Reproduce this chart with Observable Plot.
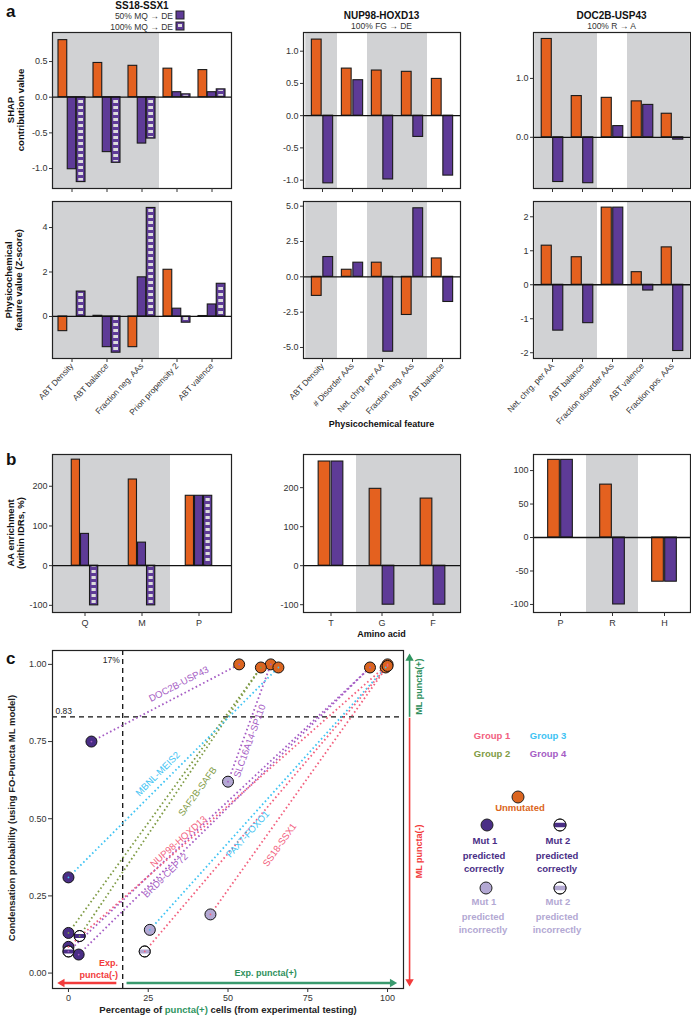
<!DOCTYPE html>
<html><head><meta charset="utf-8">
<script src="https://cdn.jsdelivr.net/npm/d3@7"></script>
<script src="https://cdn.jsdelivr.net/npm/@observablehq/plot@0.6"></script>
<style>
body{margin:0;background:#fff;}
#root{position:relative;width:691px;height:1019px;overflow:hidden;background:#fff;}
</style></head><body><div id="root"></div>
<script>
// ---------------- DATA ----------------
// Panel a, column 1: SS18-SSX1
const aFeat1 = ["ABT Density","ABT balance","Fraction neg. AAs","Prion propensity 2","ABT valence"];
const aShade1 = ["ABT Density","ABT balance","Fraction neg. AAs"];
const aShap1Unmut = [0.80,0.48,0.44,0.40,0.38];
const aShap1Mut50 = [-1.01,-0.77,-0.65,0.07,0.07];
const aShap1Mut100 = [-1.19,-0.92,-0.58,0.04,0.11];
const aZ1Unmut = [-0.66,0.03,-1.38,2.10,0.02];
const aZ1Mut50 = [0.0,-1.38,1.76,0.35,0.54];
const aZ1Mut100 = [1.12,-1.63,4.88,-0.28,1.47];
// Panel a, column 2: NUP98-HOXD13
const aFeat2 = ["ABT Density","# Disorder AAs","Net. chrg. per AA","Fraction neg. AAs","ABT balance"];
const aShade2 = ["ABT Density","Net. chrg. per AA","Fraction neg. AAs"];
const aShap2Unmut = [1.18,0.73,0.70,0.68,0.57];
const aShap2Mut = [-1.05,0.55,-0.99,-0.33,-0.93];
const aZ2Unmut = [-1.35,0.50,1.00,-2.70,1.30];
const aZ2Mut = [1.40,1.00,-5.30,4.85,-1.78];
// Panel a, column 3: DOC2B-USP43
const aFeat3 = ["Net. chrg. per AA","ABT balance","Fraction disorder AAs","ABT valence","Fraction pos. AAs"];
const aShade3 = ["Net. chrg. per AA","ABT balance","ABT valence","Fraction pos. AAs"];
const aShap3Unmut = [1.67,0.70,0.67,0.61,0.40];
const aShap3Mut = [-0.76,-0.78,0.19,0.55,-0.04];
const aZ3Unmut = [1.15,0.81,2.27,0.37,1.10];
const aZ3Mut = [-1.35,-1.13,2.27,-0.17,-1.95];
// Panel b
const bAA1 = ["Q","M","P"], bShade1 = ["Q","M"];
const bUnmut1 = [267,217,176], bMut50_1 = [80,58,176], bMut100_1 = [-100,-100,176];
const bAA2 = ["T","G","F"], bShade2 = ["G","F"];
const bUnmut2 = [267,197,172], bMut2 = [267,-100,-100];
const bAA3 = ["P","R","H"], bShade3 = ["R"];
const bUnmut3 = [116,79,-66], bMut3 = [116,-100,-66];
// Panel c
const fusions = ["DOC2B-USP43","SLC16A14-SP110","SAF2B-SAFB","MBNL-MEIS2","BRD9-CEP72","NUP98-HOXD13","PAX7-FOXO1","SS18-SSX1"];
const fusionGroup = [4,4,2,3,4,1,3,1];
const unmutX = [53.5,63.4,60.3,65.8,94.5,100,99.4,100];
const unmutY = [1.00,1.00,0.99,0.99,0.99,1.00,0.99,0.995];
const mutFusion = ["DOC2B-USP43","SLC16A14-SP110","SAF2B-SAFB","SAF2B-SAFB","MBNL-MEIS2","BRD9-CEP72","BRD9-CEP72","NUP98-HOXD13","PAX7-FOXO1","SS18-SSX1","SS18-SSX1"];
const mutX = [7.2,50,0,3.5,0,3.2,0,0,25.5,44.5,23.9];
const mutY = [0.75,0.62,0.13,0.12,0.31,0.06,0.07,0.085,0.14,0.19,0.07];
const mutKind = [1,1,1,2,1,1,2,1,1,1,2];
const mutCorrect = [true,false,true,true,true,true,true,true,false,false,false];
// annotation: label anchor points (data units) and the mutant line each label follows
const labelX = [34.6,56.8,40.5,28.0,30.4,34.5,56.2,66.2];
const labelY = [0.936,0.752,0.588,0.645,0.316,0.426,0.450,0.415];
const labelLine = [0,1,2,4,5,7,8,9];
const expThreshold = 17, mlThreshold = 0.83;

// ---------------- STYLE ----------------
const FONT = '"Liberation Sans", Arial, Helvetica, sans-serif';
const ORANGE = "#e4611f", PURPLE = "#5e3b97", SHADE = "#d1d2d4";
const C_ORANGE = "#db6520", MUT_OK = "#4a2e86", MUT_BAD = "#b3a8d3";
const GROUPC = {1:"#f2607e",2:"#7f9b45",3:"#3ec3f3",4:"#a55cc4"};
const STYLE = {fontFamily: FONT, fontSize: "9px", color: "#333", background: "transparent", overflow: "visible"};
const root = document.getElementById("root");
function place(node, left, top) {
  node.style.position = "absolute"; node.style.left = left + "px"; node.style.top = top + "px";
  root.appendChild(node);
}
const f1 = d => d.toFixed(1), f0 = d => String(d);

// defs (pattern for striped bars)
const defs = d3.create("svg").attr("width",0).attr("height",0).style("position","absolute");
const pat = defs.append("defs").append("pattern").attr("id","stripes")
  .attr("patternUnits","userSpaceOnUse").attr("width",6).attr("height",6);
pat.append("rect").attr("width",6).attr("height",3).attr("fill","#dcdcdc");
root.appendChild(defs.node());

function barPanel(o) {
  const ml = 40, mr = 4, mt = 4, mb = o.xlabels === "rot" ? 80 : (o.xlabels === "plain" ? 22 : 10);
  const n = o.domain.length;
  const step = o.fw / (n + 2 * o.pad);
  const outer = step * o.pad;
  const marks = [];
  o.shade.forEach(c => {
    const i = o.domain.indexOf(c);
    marks.push(Plot.cell([c], {x: d => d, fill: SHADE, insetTop: 0, insetBottom: 0,
      insetLeft: i === 0 ? -outer : 0, insetRight: i === n - 1 ? -outer : 0}));
  });
  o.series.forEach(s => {
    const data = o.domain.map((f, i) => ({f, v: s.values[i]}));
    marks.push(Plot.barY(data, {x: "f", y: "v", fill: s.fill, stroke: "#1a1a1a", strokeWidth: 1.1,
      insetLeft: step / 2 + s.o1, insetRight: step / 2 - s.o2}));
    if (s.striped) marks.push(Plot.barY(data, {x: "f", y: "v", fill: "url(#stripes)",
      insetLeft: step / 2 + s.o1 + 2, insetRight: step / 2 - s.o2 + 2, insetTop: 1, insetBottom: 1}));
  });
  marks.push(Plot.ruleY([0], {stroke: "#111", strokeWidth: 1.3}));
  marks.push(Plot.frame({stroke: "#222", strokeWidth: 1.2}));
  marks.push(Plot.axisY({ticks: o.ticks, tickFormat: o.fmt, tickSize: 3, tickPadding: 2, label: null, fontSize: 9}));
  marks.push(o.xlabels === "rot"
    ? Plot.axisX({tickSize: 4, tickRotate: -47, label: null, fontSize: 8.4, tickPadding: 2})
    : o.xlabels === "plain"
      ? Plot.axisX({tickSize: 4, label: null, fontSize: 9, tickPadding: 3})
      : Plot.axisX({tickSize: 4, tickFormat: () => "", label: null}));
  const p = Plot.plot({
    width: ml + o.fw + mr, height: mt + o.fh + mb,
    marginLeft: ml, marginRight: mr, marginTop: mt, marginBottom: mb,
    style: STYLE,
    x: {type: "band", domain: o.domain, paddingInner: 0, paddingOuter: o.pad, axis: null},
    y: {domain: o.yDomain, axis: null},
    marks
  });
  place(p, o.fl - ml, o.ft - mt);
}

const S3 = (u, m1, m2) => [
  {values: u, fill: ORANGE, o1: -13.5, o2: -4.75},
  {values: m1, fill: PURPLE, o1: -4.25, o2: 4.25},
  {values: m2, fill: PURPLE, o1: 4.75, o2: 13.5, striped: true}];
const S2 = (u, m, w) => [
  {values: u, fill: ORANGE, o1: -w, o2: -0.5},
  {values: m, fill: PURPLE, o1: 0.5, o2: w}];

// Panel a
barPanel({fl:52, ft:32, fw:179, fh:156, domain:aFeat1, pad:0.057, shade:aShade1, yDomain:[-1.28,0.907], ticks:[-1,-0.5,0,0.5], fmt:f1, series:S3(aShap1Unmut,aShap1Mut50,aShap1Mut100)});
barPanel({fl:52, ft:201, fw:179, fh:157, domain:aFeat1, pad:0.057, shade:aShade1, yDomain:[-1.89,5.17], ticks:[0,2,4], fmt:f0, xlabels:"rot", series:S3(aZ1Unmut,aZ1Mut50,aZ1Mut100)});
barPanel({fl:303, ft:32, fw:157, fh:156, domain:aFeat2, pad:0.056, shade:aShade2, yDomain:[-1.13,1.29], ticks:[-1,-0.5,0,0.5,1], fmt:f1, series:S2(aShap2Unmut,aShap2Mut,11)});
barPanel({fl:303, ft:201, fw:157, fh:157, domain:aFeat2, pad:0.056, shade:aShade2, yDomain:[-5.78,5.33], ticks:[-5,-2.5,0,2.5,5], fmt:f1, xlabels:"rot", series:S2(aZ2Unmut,aZ2Mut,11)});
barPanel({fl:533, ft:32, fw:157, fh:156, domain:aFeat3, pad:0.08, shade:aShade3, yDomain:[-0.87,1.78], ticks:[0,1], fmt:f1, series:S2(aShap3Unmut,aShap3Mut,11)});
barPanel({fl:533, ft:201, fw:157, fh:157, domain:aFeat3, pad:0.08, shade:aShade3, yDomain:[-2.17,2.45], ticks:[-2,-1,0,1,2], fmt:f0, xlabels:"rot", series:S2(aZ3Unmut,aZ3Mut,11)});
// Panel b
barPanel({fl:52, ft:454, fw:179, fh:158, domain:bAA1, pad:0.056, shade:bShade1, yDomain:[-118,280], ticks:[-100,0,100,200], fmt:f0, xlabels:"plain", series:S3(bUnmut1,bMut50_1,bMut100_1)});
barPanel({fl:303, ft:454, fw:157, fh:158, domain:bAA2, pad:0.03, shade:bShade2, yDomain:[-120,285], ticks:[-100,0,100,200], fmt:f0, xlabels:"plain", series:S2(bUnmut2,bMut2,12.5)});
barPanel({fl:533, ft:454, fw:157, fh:158, domain:bAA3, pad:0.0, shade:bShade3, yDomain:[-112,124], ticks:[-100,-50,0,50,100], fmt:f0, xlabels:"plain", series:S2(bUnmut3,bMut3,12.5)});

// ---------------- Panel c ----------------
const cFL = 52, cFT = 650, cFW = 351, cFH = 338, XD = [-5,105], YD = [-0.05,1.045];
const kx = cFW / (XD[1]-XD[0]), ky = cFH / (YD[1]-YD[0]);
const unm = fusions.map((f,i) => ({f, x: unmutX[i], y: unmutY[i], g: fusionGroup[i]}));
const mut = mutFusion.map((f,i) => {
  const j = fusions.indexOf(f);
  return {f, x: mutX[i], y: mutY[i], kind: mutKind[i], ok: mutCorrect[i], g: fusionGroup[j], ux: unmutX[j], uy: unmutY[j]};
});
const labels = fusions.map((f,i) => {
  const m = mut[labelLine[i]];
  const ang = -Math.atan2((m.uy - m.y) * ky, (m.ux - m.x) * kx) * 180 / Math.PI;
  return {t: f, x: labelX[i], y: labelY[i], g: fusionGroup[i], ang};
});
const bandSymbol = {draw(ctx, size) {
  const r = Math.sqrt(size / Math.PI), h = 0.36 * r, x0 = Math.sqrt(r*r - h*h), th = Math.asin(h / r);
  ctx.moveTo(-x0, -h); ctx.lineTo(x0, -h); ctx.arc(0, 0, r, -th, th);
  ctx.lineTo(-x0, h); ctx.arc(0, 0, r, Math.PI - th, Math.PI + th); ctx.closePath();
}};
const R = 5.5;
const mut1 = mut.filter(d => d.kind === 1), mut2 = mut.filter(d => d.kind === 2);
const arrowsH = [{x1: expThreshold - 2, x2: XD[0] + 3, y: -0.032, c: "#f23b3b"}, {x1: expThreshold + 1.2, x2: 101.5, y: -0.032, c: "#3a9a6e"}];
const arrowsV = [{y1: mlThreshold, y2: YD[1] - 0.025, c: "#2e9460", x: 106.9}, {y1: mlThreshold - 0.003, y2: YD[0] + 0.022, c: "#f23b3b", x: 106.9}];
const cPlot = Plot.plot({
  width: cFL + cFW + 28, height: 10 + cFH + 22,
  marginLeft: cFL, marginTop: 10, marginRight: 28, marginBottom: 22,
  style: STYLE,
  x: {domain: XD, axis: null},
  y: {domain: YD, axis: null},
  color: {type: "identity"},
  marks: [
    Plot.ruleX([expThreshold], {stroke: "#111", strokeWidth: 1.3, strokeDasharray: "5,4"}),
    Plot.ruleY([mlThreshold], {stroke: "#111", strokeWidth: 1.3, strokeDasharray: "5,4"}),
    Plot.text([expThreshold], {x: d => d, text: d => d + "%", frameAnchor: "top", dy: 6, dx: -3, textAnchor: "end", fontSize: 8.5, fill: "#222"}),
    Plot.text([mlThreshold], {y: d => d, text: d => d.toFixed(2), frameAnchor: "left", dx: 3, dy: -6, textAnchor: "start", fontSize: 8.5, fill: "#222"}),
    Plot.link(mut, {x1: "x", y1: "y", x2: "ux", y2: "uy", stroke: d => GROUPC[d.g], strokeWidth: 1.8, strokeDasharray: "1.6,2.6"}),
    Plot.text(labels, {x: "x", y: "y", text: "t", rotate: "ang", fill: d => GROUPC[d.g], fontSize: 9.5}),
    Plot.dot(unm, {x: "x", y: "y", r: R, fill: C_ORANGE, stroke: "#111", strokeWidth: 1}),
    Plot.dot(mut1, {x: "x", y: "y", r: R, fill: d => d.ok ? MUT_OK : MUT_BAD, stroke: "#111", strokeWidth: 1}),
    Plot.dot(mut2, {x: "x", y: "y", r: R, fill: "white", stroke: "#111", strokeWidth: 1}),
    Plot.dot(mut2, {x: "x", y: "y", r: R, symbol: bandSymbol, fill: d => d.ok ? MUT_OK : MUT_BAD}),
    Plot.dot(mut2, {x: "x", y: "y", r: R, fill: "none", stroke: "#111", strokeWidth: 1}),
    Plot.dot([...unm, ...mut], {x: "x", y: "y", r: 0.9, fill: d => GROUPC[d.g]}),
    Plot.frame({stroke: "#222", strokeWidth: 1.2}),
    Plot.link(arrowsH, {x1: "x1", x2: "x2", y1: "y", y2: "y", stroke: "c", strokeWidth: 2.4}),
    Plot.dot(arrowsH, {x: "x2", y: "y", symbol: "triangle2", r: 4, fill: "c", rotate: d => d.x2 < d.x1 ? -90 : 90}),
    Plot.link(arrowsV, {x1: "x", x2: "x", y1: "y1", y2: "y2", stroke: "c", strokeWidth: 1.6}),
    Plot.dot(arrowsV, {x: "x", y: "y2", symbol: "triangle2", r: 4, fill: "c", rotate: d => d.y2 > d.y1 ? 0 : 180}),
    Plot.text([{t: "Exp.\npuncta(-)", x: expThreshold - 1.5, y: 0.015}], {x: "x", y: "y", text: "t", textAnchor: "end", fill: "#f23b3b", fontWeight: "bold", fontSize: 9, lineHeight: 1.3}),
    Plot.text([{t: "Exp. puncta(+)", x: 52, y: 0.0}], {x: "x", y: "y", text: "t", textAnchor: "start", fill: "#2e8f5c", fontWeight: "bold", fontSize: 9}),
    Plot.text([{t: "ML puncta(+)", x: 109.8, y: 0.928}], {x: "x", y: "y", text: "t", rotate: -90, fill: "#2e8f5c", fontWeight: "bold", fontSize: 9}),
    Plot.text([{t: "ML puncta(-)", x: 109.8, y: 0.394}], {x: "x", y: "y", text: "t", rotate: -90, fill: "#f23b3b", fontWeight: "bold", fontSize: 9}),
    Plot.axisX({ticks: [0,25,50,75,100], tickSize: 4, tickPadding: 2, label: null, fontSize: 9}),
    Plot.axisY({ticks: [0,0.25,0.5,0.75,1], tickFormat: d => d.toFixed(2), tickSize: 4, tickPadding: 2, label: null, fontSize: 9})
  ]
});
place(cPlot, 0, cFT - 10);

// ---------------- Overlay text & legends ----------------
const ov = d3.create("svg").attr("width", 691).attr("height", 1019)
  .style("position","absolute").style("left","0").style("top","0").style("pointer-events","none")
  .attr("font-family", FONT);
function txt(x, y, s, {size = 9, weight = "normal", anchor = "middle", fill = "#222", rot = 0} = {}) {
  return ov.append("text").attr("transform", `translate(${x},${y}) rotate(${rot})`)
    .attr("text-anchor", anchor).attr("font-size", size).attr("font-weight", weight).attr("fill", fill).text(s);
}
txt(6, 17, "a", {size: 17, weight: "bold", anchor: "start", fill: "#111"});
txt(6, 465, "b", {size: 17, weight: "bold", anchor: "start", fill: "#111"});
txt(6, 664, "c", {size: 17, weight: "bold", anchor: "start", fill: "#111"});
// titles
txt(142, 9, "SS18-SSX1", {size: 10, weight: "bold", fill: "#111"});
txt(173, 19, "50% MQ \u2192 DE", {size: 8.5, anchor: "end", fill: "#333"});
txt(173, 30, "100% MQ \u2192 DE", {size: 8.5, anchor: "end", fill: "#333"});
ov.append("rect").attr("x",176).attr("y",11).attr("width",8).attr("height",8).attr("fill",PURPLE).attr("stroke","#222");
ov.append("rect").attr("x",176).attr("y",22).attr("width",8).attr("height",8).attr("fill",PURPLE).attr("stroke","#222");
ov.append("rect").attr("x",178).attr("y",23).attr("width",4).attr("height",6).attr("fill","url(#stripes)");
txt(381.5, 19, "NUP98-HOXD13", {size: 10, weight: "bold", fill: "#111"});
txt(381.5, 29, "100% FG \u2192 DE", {size: 8.5, fill: "#333"});
txt(611.5, 19, "DOC2B-USP43", {size: 10, weight: "bold", fill: "#111"});
txt(611.5, 29, "100% R \u2192 A", {size: 8.5, fill: "#333"});
// y labels
txt(14, 110, "SHAP", {size: 9.5, weight: "bold", rot: -90, fill: "#111"});
txt(24, 110, "contribution value", {size: 9.5, weight: "bold", rot: -90, fill: "#111"});
txt(12, 280, "Physicochemical", {size: 9.5, weight: "bold", rot: -90, fill: "#111"});
txt(22, 280, "feature value (Z-score)", {size: 9.5, weight: "bold", rot: -90, fill: "#111"});
txt(14, 533, "AA enrichment", {size: 9.5, weight: "bold", rot: -90, fill: "#111"});
txt(24, 533, "(within IDRs, %)", {size: 9.5, weight: "bold", rot: -90, fill: "#111"});
txt(15, 818, "Condensation probability (using FO-Puncta ML model)", {size: 9.5, weight: "bold", rot: -90, fill: "#222"});
txt(381.5, 427, "Physicochemical feature", {size: 9, weight: "bold", fill: "#111"});
txt(381.5, 637, "Amino acid", {size: 9, weight: "bold", fill: "#111"});
const xl = txt(228, 1013, "", {size: 9.5, weight: "bold", fill: "#222"});
xl.append("tspan").text("Percentage of ");
xl.append("tspan").attr("fill", "#2e9460").text("puncta(+)");
xl.append("tspan").text(" cells (from experimental testing)");
// panel c legend
txt(492, 739, "Group 1", {size: 9.5, weight: "bold", fill: GROUPC[1]});
txt(548, 739, "Group 3", {size: 9.5, weight: "bold", fill: GROUPC[3]});
txt(492, 757, "Group 2", {size: 9.5, weight: "bold", fill: GROUPC[2]});
txt(548, 757, "Group 4", {size: 9.5, weight: "bold", fill: GROUPC[4]});
function legCircle(cx, cy, fill, band) {
  ov.append("circle").attr("cx", cx).attr("cy", cy).attr("r", 6).attr("fill", band ? "white" : fill).attr("stroke", "#222");
  if (band) {
    const p = d3.path(); bandSymbol.draw(p, 36 * Math.PI);
    ov.append("path").attr("d", p.toString()).attr("transform", `translate(${cx},${cy})`).attr("fill", fill);
    ov.append("circle").attr("cx", cx).attr("cy", cy).attr("r", 6).attr("fill", "none").attr("stroke", "#222");
  }
}
legCircle(518, 797, C_ORANGE, false);
txt(520, 811, "Unmutated", {size: 9.5, weight: "bold", fill: C_ORANGE});
legCircle(487, 825, MUT_OK, false);
legCircle(560, 825, MUT_OK, true);
legCircle(486, 888, MUT_BAD, false);
legCircle(560, 888, MUT_BAD, true);
[["Mut 1", 487, MUT_OK, 844], ["Mut 2", 560, MUT_OK, 844], ["Mut 1", 486, MUT_BAD, 905], ["Mut 2", 560, MUT_BAD, 905]].forEach(([m, x, c, y]) => {
  const word = c === MUT_OK ? "correctly" : "incorrectly";
  txt(x - 2, y, m, {size: 9.5, weight: "bold", fill: c});
  txt(x - 3, y + 14.5, "predicted", {size: 9.5, weight: "bold", fill: c});
  txt(x - 3, y + 28, word, {size: 9.5, weight: "bold", fill: c});
});
root.appendChild(ov.node());
</script></body></html>
